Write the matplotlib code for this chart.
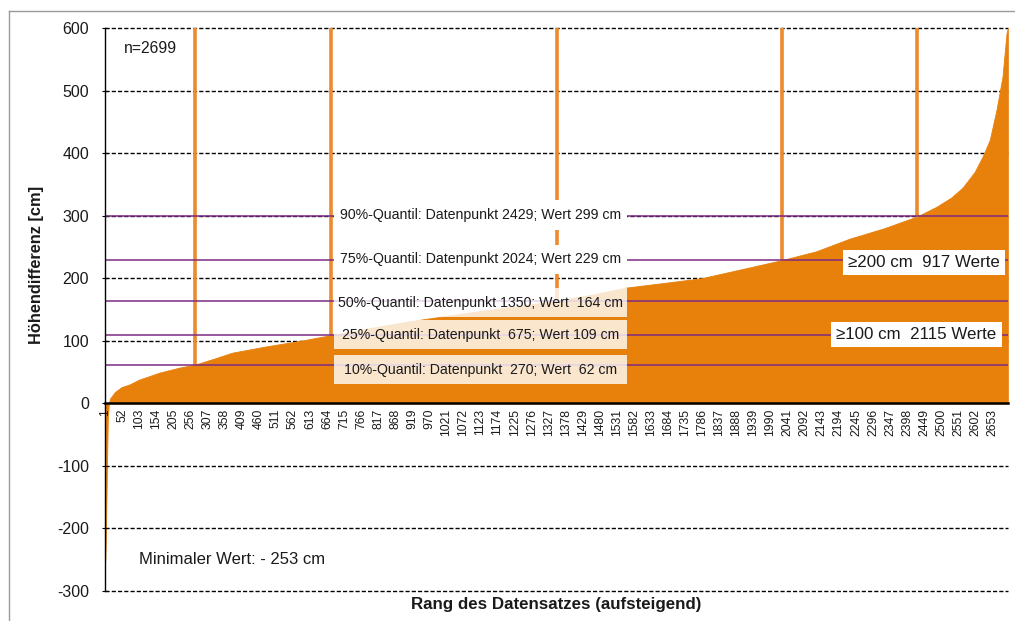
import matplotlib
matplotlib.use('Agg')
import matplotlib.pyplot as plt
from matplotlib.patches import Rectangle
from matplotlib.lines import Line2D

plt.rcParams['font.family'] = ['Liberation Sans', 'DejaVu Sans']

# ---- data ----
ranks = [1, 3, 5, 7, 9, 12, 16, 30, 50, 73, 103, 163, 222, 270, 330, 381, 482, 585,
         675, 800, 909, 1100, 1230, 1350, 1460, 1558, 1680, 1783, 1925, 2024,
         2126, 2225, 2330, 2429, 2485, 2530, 2564, 2600, 2624, 2645, 2665,
         2683, 2695, 2699]
values = [-253, -215, -150, -80, -25, 0, 8, 18, 26, 30, 38, 49, 57, 62, 72, 81, 91, 100,
          109, 121, 131, 146, 155, 164, 174, 185, 193, 200, 217, 229,
          243, 263, 280, 299, 314, 329, 345, 370, 395, 421, 469,
          522, 591, 600]

n_total = 2699
quantile_rank = [270, 675, 1350, 2024, 2429]
quantile_value = [62, 109, 164, 229, 299]
quantile_labels = [
    "10%-Quantil: Datenpunkt  270; Wert  62 cm",
    "25%-Quantil: Datenpunkt  675; Wert 109 cm",
    "50%-Quantil: Datenpunkt 1350; Wert  164 cm",
    "75%-Quantil: Datenpunkt 2024; Wert 229 cm",
    "90%-Quantil: Datenpunkt 2429; Wert 299 cm",
]
count_labels = ["\u2265200 cm  917 Werte", "\u2265100 cm  2115 Werte"]
xtick_values = list(range(1, 2700, 51))
ytick_values = [-300, -200, -100, 0, 100, 200, 300, 400, 500, 600]

# ---- figure ----
W, H = 1015, 621
fig = plt.figure(figsize=(W / 100, H / 100), dpi=100)
ax = fig.add_axes([105 / W, 1 - 591 / H, (1008 - 105) / W, (591 - 28) / H])
ax.set_xlim(0.5, n_total + 0.5)
ax.set_ylim(-300, 600)

orange = '#E8800C'
purple = '#7D2B82'

# dashed grid lines
for y in ytick_values:
    if y == 0:
        continue
    ax.axhline(y, color='black', lw=1.0, ls=(0, (3, 1.5)), zorder=0.5, clip_on=False)

# area
ax.fill_between(ranks, values, 0, color=orange, lw=0.6, edgecolor=orange, zorder=1)

# vertical quantile markers
ax.vlines(quantile_rank, quantile_value, 600, color='#EC8A2C', lw=2.6, zorder=2)

# horizontal quantile lines
ax.hlines(quantile_value, 0.5, n_total + 0.5, color=purple, lw=1.1, zorder=3)

# quantile label boxes
label_y = [54, 110, 161, 230, 301]
box_alpha = [0.8, 0.8, 0.8, 1.0, 1.0]
bx0, bx1 = 686, 1561
bh = 47
for lab, yc, a in zip(quantile_labels, label_y, box_alpha):
    ax.add_patch(Rectangle((bx0, yc - bh / 2), bx1 - bx0, bh, facecolor='white',
                           edgecolor='none', alpha=a, zorder=4))
    ax.text((bx0 + bx1) / 2, yc, lab, ha='center', va='center', fontsize=10.2,
            color='#1a1a1a', zorder=5)

# count boxes
ax.text(2222, 225, count_labels[0], ha='left', va='center', fontsize=12.2,
        color='#1a1a1a', zorder=5,
        bbox=dict(boxstyle='square,pad=0.3', facecolor='white', edgecolor='none'))
ax.text(2186, 110, count_labels[1], ha='left', va='center', fontsize=12.2,
        color='#1a1a1a', zorder=5,
        bbox=dict(boxstyle='square,pad=0.3', facecolor='white', edgecolor='none'))

# other texts
ax.text(58, 568, "n=%d" % n_total, ha='left', va='center', fontsize=11.3, color='#1a1a1a')
ax.text(103, -250, "Minimaler Wert: - 253 cm", ha='left', va='center', fontsize=12,
        color='#1a1a1a')

# axes styling
for s in ['top', 'right']:
    ax.spines[s].set_visible(False)
ax.spines['bottom'].set_position(('data', 0))
ax.spines['bottom'].set_linewidth(1.8)
ax.spines['bottom'].set_zorder(6)
ax.spines['left'].set_linewidth(1.0)
ax.spines['left'].set_zorder(6)

ax.set_yticks(ytick_values)
ax.set_yticklabels([str(v) for v in ytick_values], fontsize=11.5, color='#1a1a1a')
ax.tick_params(axis='y', direction='inout', length=5, width=0.8, pad=9)

ax.set_xticks(xtick_values)
ax.set_xticklabels([str(v) for v in xtick_values], rotation=90, fontsize=8.8,
                   color='#1a1a1a')
ax.tick_params(axis='x', length=0, pad=4)

fig.text(37 / W, 1 - 265 / H, "Höhendifferenz [cm]", rotation=90, ha='center',
         va='center', fontsize=11.8, fontweight='bold', color='#1a1a1a')
fig.text(556 / W, 1 - 604 / H, "Rang des Datensatzes (aufsteigend)", ha='center',
         va='center', fontsize=12.2, fontweight='bold', color='#1a1a1a')

# outer frame
fig.add_artist(Line2D([8.5 / W, 1], [1 - 10.5 / H] * 2, transform=fig.transFigure,
                      color='#9a9a9a', lw=1.0))
fig.add_artist(Line2D([8.5 / W] * 2, [0, 1 - 10.5 / H], transform=fig.transFigure,
                      color='#9a9a9a', lw=1.0))

fig.savefig('out.png', dpi=100)
